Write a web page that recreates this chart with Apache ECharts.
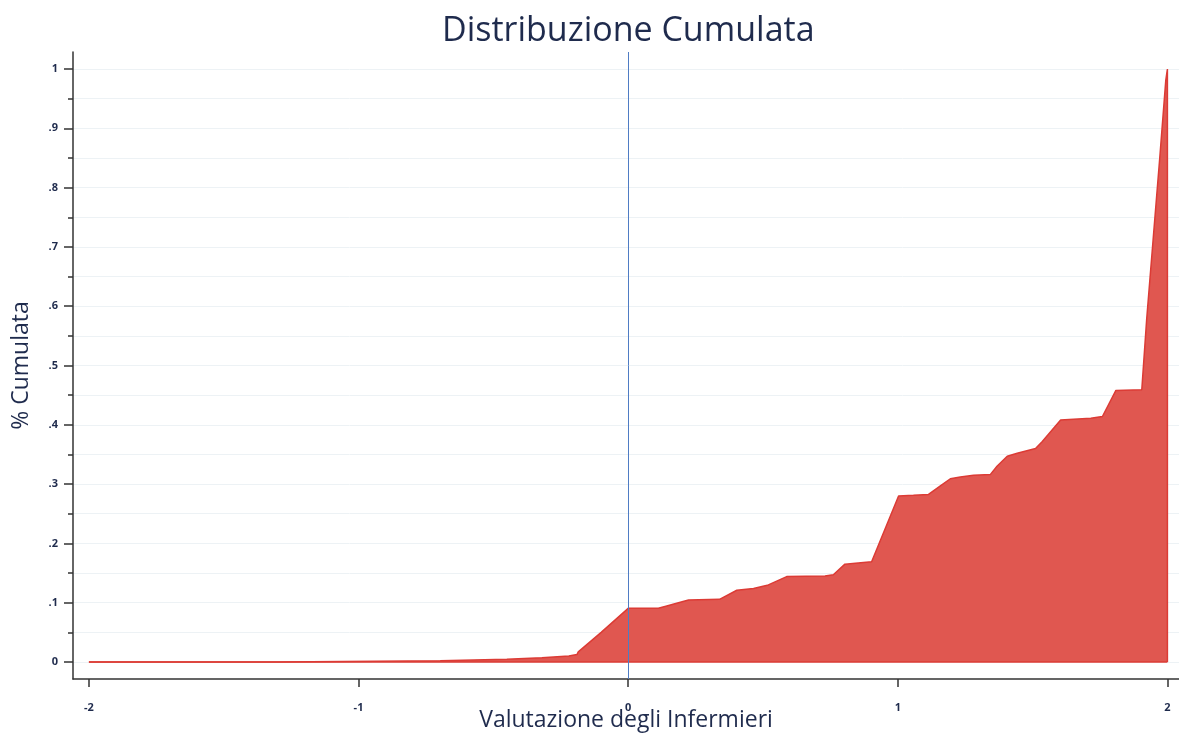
<!DOCTYPE html>
<html>
<head>
<meta charset="utf-8">
<title>Distribuzione Cumulata</title>
<script src="https://cdn.jsdelivr.net/npm/echarts@6.0.0/dist/echarts.min.js"></script>
<style>
    html, body { margin: 0; padding: 0; background: #fff; }
    #main { width: 1179px; height: 738px; }
</style>
</head>
<body>
<div id="main"></div>
<script>
// valori (valutazione, % cumulata)
var valutazioni = [-2, -1.296, -1.296, -0.697, -0.697, -0.45, -0.45, -0.32, -0.32, -0.22, -0.22, -0.19,
    -0.185, -0.1, 0, 0.112, 0.14, 0.18, 0.224, 0.339, 0.403, 0.465, 0.52, 0.588, 0.73, 0.761, 0.804,
    0.853, 0.903, 1.003, 1.058, 1.114, 1.158, 1.195, 1.232, 1.281, 1.343, 1.368, 1.406, 1.443, 1.511,
    1.536, 1.604, 1.716, 1.759, 1.809, 1.905, 1.923, 1.947, 1.972, 1.994, 2, 2];
var cumulata = [0, 0, 0.002, 0.002, 0.0046, 0.0046, 0.0073, 0.0073, 0.010, 0.010, 0.0125, 0.0125,
    0.017, 0.05, 0.0905, 0.0905, 0.094, 0.099, 0.1045, 0.1057, 0.121, 0.124, 0.13, 0.144, 0.145, 0.147, 0.165,
    0.167, 0.169, 0.280, 0.281, 0.2826, 0.297, 0.309, 0.312, 0.315, 0.316, 0.330, 0.347, 0.352, 0.360,
    0.372, 0.408, 0.411, 0.414, 0.458, 0.459, 0.577, 0.712, 0.852, 0.981, 1, 0];

var tickX = [-2, -1, 0, 1, 2];
var tickY = [0, 0.1, 0.2, 0.3, 0.4, 0.5, 0.6, 0.7, 0.8, 0.9, 1];
var tickYMinori = [0.05, 0.15, 0.25, 0.35, 0.45, 0.55, 0.65, 0.75, 0.85, 0.95];

var dati = [];
for (var i = 0; i < valutazioni.length; i++) {
    dati.push([valutazioni[i], cumulata[i]]);
}

var font = '"Open Sans", "DejaVu Sans", sans-serif';
var coloreTesto = '#1f2b4d';

function etichettaY(v) {
    if (Math.abs(v) < 1e-9) return '0';
    if (Math.abs(v - 1) < 1e-9) return '1';
    return '.' + Math.round(v * 10);
}

var myChart = echarts.init(document.getElementById('main'));
var option = {
    animation: false,
    title: {
        text: 'Distribuzione Cumulata',
        left: 437,
        top: 9,
        textStyle: { fontFamily: font, fontSize: 34, fontWeight: 'normal', color: coloreTesto }
    },
    grid: { left: 73, right: 0, top: 52, bottom: 59, containLabel: false, outerBoundsMode: 'none' },
    xAxis: {
        type: 'value',
        min: -2.059,
        max: 2.043,
        name: 'Valutazione degli Infermieri',
        nameLocation: 'middle',
        nameGap: 30,
        nameMoveOverlap: false,
        nameTextStyle: { fontFamily: font, fontSize: 23, color: coloreTesto },
        axisLine: { onZero: false, lineStyle: { color: '#333', width: 1.5 } },
        axisTick: { customValues: tickX, length: 8, lineStyle: { color: '#333', width: 1.5 } },
        axisLabel: {
            customValues: tickX,
            margin: 23,
            fontFamily: font, fontSize: 11, fontWeight: 'bold', color: coloreTesto
        },
        splitLine: { show: false }
    },
    yAxis: [{
        type: 'value',
        min: -0.0287,
        max: 1.0287,
        name: '% Cumulata',
        nameLocation: 'middle',
        nameGap: 40,
        nameMoveOverlap: false,
        nameTextStyle: { fontFamily: font, fontSize: 23, color: coloreTesto },
        axisLine: { show: true, onZero: false, lineStyle: { color: '#333', width: 1.5 } },
        axisTick: { customValues: tickY, length: 9, lineStyle: { color: '#333', width: 1.5 } },
        axisLabel: {
            customValues: tickY,
            margin: 15,
            formatter: etichettaY,
            fontFamily: font, fontSize: 11, fontWeight: 'bold', color: coloreTesto
        },
        splitLine: { show: true, lineStyle: { color: '#edf2f5', width: 1 } }
    }, {
        // tacche minori ogni .05
        type: 'value',
        position: 'left',
        min: -0.0287,
        max: 1.0287,
        axisLine: { show: false, onZero: false },
        axisTick: { show: true, customValues: tickYMinori, length: 5, lineStyle: { color: '#333', width: 1.5 } },
        axisLabel: { show: false },
        splitLine: { show: true, lineStyle: { color: '#edf2f5', width: 1 } }
    }],
    series: [
        {
            type: 'line',
            data: dati,
            symbol: 'none',
            lineStyle: { color: '#dc3b35', width: 1.5 },
            areaStyle: { color: '#e05750', opacity: 1 },
            markLine: {
                silent: true,
                symbol: 'none',
                label: { show: false },
                lineStyle: { color: '#4f7cc4', width: 1, type: 'solid' },
                data: [{ xAxis: 0 }]
            },
            z: 3
        },
        {
            // bordo inferiore dell'area
            type: 'line',
            data: [[valutazioni[0], 0], [valutazioni[valutazioni.length - 1], 0]],
            symbol: 'none',
            lineStyle: { color: '#dc3b35', width: 1.5 },
            z: 4
        }
    ]
};
myChart.setOption(option);
</script>
</body>
</html>
